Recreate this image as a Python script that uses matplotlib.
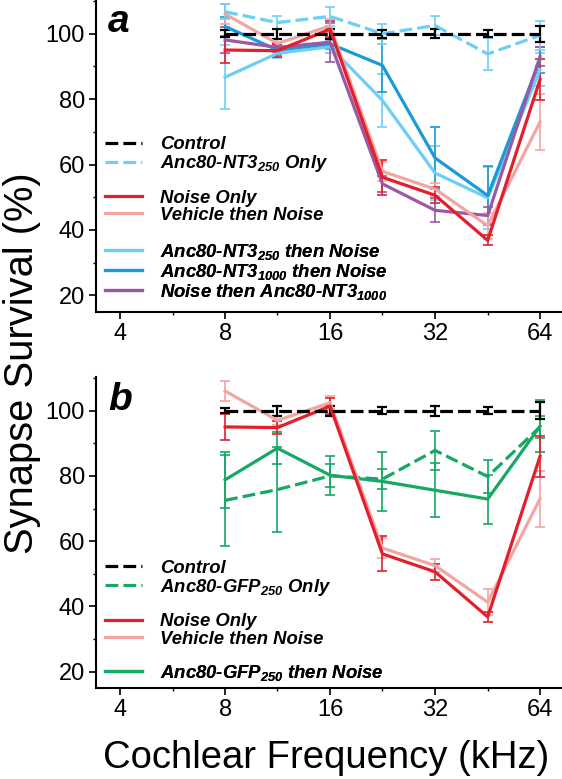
import matplotlib
matplotlib.use("Agg")
from matplotlib import pyplot as plt
from matplotlib.lines import Line2D
import matplotlib.ticker as ticker

plt.rcParams['font.family'] = ['Liberation Sans', 'DejaVu Sans']
plt.rcParams['mathtext.fontset'] = 'custom'
plt.rcParams['mathtext.rm'] = 'Liberation Sans:bold:italic'
plt.rcParams['mathtext.it'] = 'Liberation Sans:bold:italic'
plt.rcParams['mathtext.bf'] = 'Liberation Sans:bold:italic'

# frequencies (kHz), half-octave steps
freqs = [8, 11.3, 16, 22.6, 32, 45.3, 64]

# panel a
control_a = [100, 100, 100, 100, 100, 100, 100]
control_a_err = [1.0, 1.5, 1.5, 1.2, 1.3, 1.0, 2.5]
nt3_250_only = [106.7, 103.4, 105.3, 100.0, 102.5, 93.8, 99.5]
nt3_250_only_err = [2.3, 2.0, 3.0, 3.0, 3.0, 4.8, 4.5]
noise_only = [95.0, 94.8, 101.4, 56.1, 50.6, 36.8, 86.0]
noise_only_err = [4.0, 2.0, 2.5, 5.4, 2.5, 1.5, 6.2]
vehicle_noise = [106.0, 97.0, 102.4, 57.9, 52.5, 41.3, 73.0]
vehicle_noise_err = [3.0, 1.5, 2.0, 3.0, 2.0, 4.0, 8.6]
nt3_250_noise = [86.7, 94.0, 96.0, 79.6, 57.4, 49.8, 89.0]
nt3_250_noise_err = [9.7, 1.5, 2.0, 8.0, 8.3, 9.4, 5.0]
nt3_1000_noise = [102.2, 95.0, 96.9, 90.3, 62.0, 50.5, 92.0]
nt3_1000_noise_err = [3.0, 1.5, 1.5, 8.0, 9.4, 9.0, 4.0]
noise_nt3_1000 = [98.1, 95.8, 97.4, 54.1, 46.0, 44.4, 93.0]
noise_nt3_1000_err = [4.0, 1.5, 6.0, 2.5, 3.7, 2.5, 3.0]

# panel b
control_b = [100, 100, 100, 100, 100, 100, 100]
control_b_err = [0.8, 1.5, 1.5, 1.0, 1.5, 1.0, 2.5]
gfp_only = [72.5, 75.8, 80.0, 79.0, 87.8, 79.8, 95.0]
gfp_only_err = [14.0, 13.0, 3.5, 3.0, 6.0, 5.0, 3.5]
gfp_noise = [78.8, 88.5, 80.2, 78.3, 75.6, 72.9, 95.2]
gfp_noise_err = [8.6, 5.0, 6.0, 9.0, 8.2, 7.5, 8.0]

xticks = [4, 8, 16, 32, 64]
yticks = [20, 40, 60, 80, 100]

black = "#000000"
light_blue = "#6dcff6"
blue = "#1b9ad6"
red = "#e41f2b"
pink = "#f3a5a2"
purple = "#9b58a5"
green = "#17a864"

dash = (0, (4, 1.6))
lw = 2.3

W, H = 562, 779
fig = plt.figure(figsize=(W / 100, H / 100), dpi=100)
ax1 = fig.add_axes([96 / W, 1 - 311.7 / H, 465 / W, 311.7 / H])
ax2 = fig.add_axes([96 / W, 1 - 688 / H, 465 / W, 311 / H])


def draw(ax, y, err, color, ls='-', ew=1.2):
    c = ax.errorbar(freqs, y, yerr=err, color=color, ls=ls, lw=lw,
                    elinewidth=ew, capsize=3.8, capthick=ew)
    return c.lines[0]


def key(ax, entries, ycenter):
    handles = [Line2D([], [], color=c, ls=s, lw=lw) for c, s, _ in entries]
    labels = [t for _, _, t in entries]
    leg = ax.legend(handles, labels, loc='center left',
                    bbox_to_anchor=(105 / W, 1 - ycenter / H),
                    bbox_transform=fig.transFigure, frameon=False,
                    borderpad=0, borderaxespad=0, handlelength=2.0,
                    handletextpad=1.0, labelspacing=0.0,
                    prop={'size': 13.3, 'weight': 'bold', 'style': 'italic'})
    ax.add_artist(leg)


# panel a
draw(ax1, nt3_250_noise, nt3_250_noise_err, light_blue)
draw(ax1, nt3_1000_noise, nt3_1000_noise_err, blue)
draw(ax1, noise_nt3_1000, noise_nt3_1000_err, purple)
draw(ax1, vehicle_noise, vehicle_noise_err, pink)
draw(ax1, noise_only, noise_only_err, red)
draw(ax1, nt3_250_only, nt3_250_only_err, light_blue, dash)
draw(ax1, control_a, control_a_err, black, dash, 1.6)

key(ax1, [(black, dash, "Control"),
          (light_blue, dash, "Anc80-NT3$_{250}$ Only")], 155)
key(ax1, [(red, '-', "Noise Only"),
          (pink, '-', "Vehicle then Noise")], 206.7)
key(ax1, [(light_blue, '-', "Anc80-NT3$_{250}$ then Noise"),
          (blue, '-', "Anc80-NT3$_{1000}$ then Noise"),
          (purple, '-', "Noise then Anc80-NT3$_{1000}$")], 271.5)

# panel b
draw(ax2, gfp_noise, gfp_noise_err, green)
draw(ax2, gfp_only, gfp_only_err, green, dash)
draw(ax2, vehicle_noise, vehicle_noise_err, pink)
draw(ax2, noise_only, noise_only_err, red)
draw(ax2, control_b, control_b_err, black, dash, 1.6)

key(ax2, [(black, dash, "Control"),
          (green, dash, "Anc80-GFP$_{250}$ Only")], 578.8)
key(ax2, [(red, '-', "Noise Only"),
          (pink, '-', "Vehicle then Noise")], 630.5)
key(ax2, [(green, '-', "Anc80-GFP$_{250}$ then Noise")], 672.7)

for ax in (ax1, ax2):
    ax.set_xscale("log", base=2)
    ax.set_xlim(3.41, 73.5)
    ax.set_ylim(15, 110.3)
    ax.set_xticks(xticks)
    ax.set_xticklabels([str(t) for t in xticks])
    ax.xaxis.set_minor_locator(ticker.FixedLocator([5.66, 11.3, 22.6, 45.3]))
    ax.xaxis.set_minor_formatter(ticker.NullFormatter())
    ax.set_yticks(yticks)
    ax.yaxis.set_minor_locator(ticker.MultipleLocator(10))
    ax.spines["right"].set_visible(False)
    ax.spines["top"].set_visible(False)
    ax.spines["left"].set_linewidth(1.5)
    ax.spines["bottom"].set_linewidth(1.5)
    ax.tick_params(which='major', length=5, width=1.2, labelsize=17, pad=3)
    ax.tick_params(which='minor', length=2.5, width=1.0)

fig.text(108 / W, 1 - 32 / H, "a", fontsize=28, fontweight='bold',
         fontstyle='italic', va='baseline', ha='left')
fig.text(108 / W, 1 - 410 / H, "b", fontsize=28, fontweight='bold',
         fontstyle='italic', va='baseline', ha='left')

fig.text(22 / W, 1 - 363 / H, "Synapse Survival (%)", fontsize=28.7,
         rotation=90, ha='center', va='center')
fig.text(326 / W, 1 - 768 / H, "Cochlear Frequency (kHz)", fontsize=27.5,
         ha='center', va='baseline')

fig.savefig("out.png", dpi=100)
